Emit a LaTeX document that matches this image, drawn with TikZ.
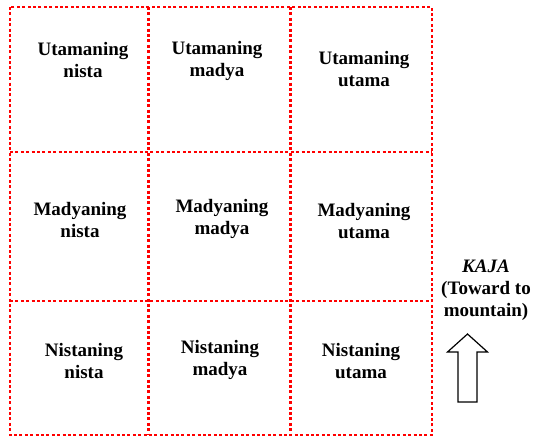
\documentclass[tikz,border=0pt]{standalone}
\usepackage{fontspec}
\setmainfont{Liberation Serif}
\usepackage{tikz}
\usetikzlibrary{positioning}
\tikzset{%
  gridline/.style = {draw=red,line width=2.8pt,dash pattern=on 3pt off 2.4pt},
  zone/.style = {align=center,inner sep=0pt,
        font=\fontsize{19}{22}\selectfont\bfseries},
  dirarrow/.style = {draw=black,line width=1.2pt,fill=white}
}

\begin{document}
\begin{tikzpicture}[x=1pt,y=-1pt]
                    \useasboundingbox (0,0) rectangle (535,437);
                    % dotted grid
                    \draw[gridline] (10,7) rectangle (432,435);
                    \draw[gridline] (148.5,7) -- (148.5,435);
                    \draw[gridline] (290.5,7) -- (290.5,435);
                    \draw[gridline] (10,152) -- (432,152);
                    \draw[gridline] (10,301) -- (432,301);

                    \node[zone] (un) at (83,60) {Utamaning\\nista};
                    \node[zone] (um) at (217,61) {Utamaning\\madya};
                    \node[zone] (uu) at (364,69) {Utamaning\\utama};
                    \node[zone] (mn) at (80,220) {Madyaning\\nista};
                    \node[zone] (mm) at (222,219) {Madyaning\\madya};
                    \node[zone] (mu) at (364,221) {Madyaning\\utama};
                    \node[zone] (nn) at (84,361) {Nistaning\\nista};
                    \node[zone] (nm) at (220,360) {Nistaning\\madya};
                    \node[zone] (nu) at (361,361) {Nistaning\\utama};

                    \node[zone] (kaja) at (486,290) {\itshape KAJA\\(Toward to\\mountain)};

                    % arrow toward the mountain
                    \draw[dirarrow] (458,402) -- (458,352) -- (447.5,352) -- (467.5,334)
                        -- (487.5,352) -- (477,352) -- (477,402) -- cycle;
                 \end{tikzpicture}
\end{document}
